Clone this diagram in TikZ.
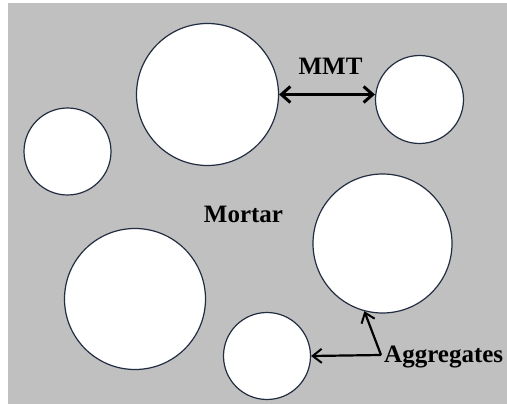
\documentclass[tikz,border=0pt]{standalone}
\usepackage{fontspec}
\setmainfont{Liberation Serif}
\usetikzlibrary{arrows.meta}
\definecolor{mortar}{RGB}{192,192,192}
\definecolor{rim}{RGB}{35,45,65}
\tikzset{
  agg/.style={circle, draw=rim, line width=1.2pt, fill=white, inner sep=0pt, minimum size=#1},
  lbl/.style={font=\bfseries\fontsize{25}{25}\selectfont, inner sep=0pt},
  bigarrow/.style={line width=3.8pt, {Straight Barb[length=9pt,width=16pt,line width=3pt]}-{Straight Barb[length=9pt,width=16pt,line width=3pt]}},
  smallarrow/.style={line width=2.2pt, -{Straight Barb[length=9pt,width=14pt,line width=2pt]}}
}
\begin{document}
\begin{tikzpicture}[x=1pt,y=1pt]
\useasboundingbox (0,0) rectangle (507,-404);
\clip (0,0) rectangle (507,-404);
\fill[mortar] (8,-3) rectangle (507,-404);
\node[agg=142pt] (c1) at (207.5,-94.5) {};
\node[agg=88pt]  (c2) at (419.5,-99.5) {};
\node[agg=87pt]  (c3) at (67.5,-151.5) {};
\node[agg=141pt] (c4) at (135,-299) {};
\node[agg=139pt] (c5) at (382.5,-243.5) {};
\node[agg=87pt]  (c6) at (267,-356) {};
\node[lbl] (mmt) at (330.5,-66) {MMT};
\node[lbl] (mortar) at (243.5,-214) {Mortar};
\node[lbl, anchor=base west] (aggtext) at (384,-362) {Aggregates};
\coordinate (junc) at (381,-355);
\draw[bigarrow] (c1.east) -- (c2.west |- c1.east);
\draw[smallarrow] (junc) -- (c6.east);
\draw[smallarrow] (junc) -- (c5.-105);
\end{tikzpicture}
\end{document}
